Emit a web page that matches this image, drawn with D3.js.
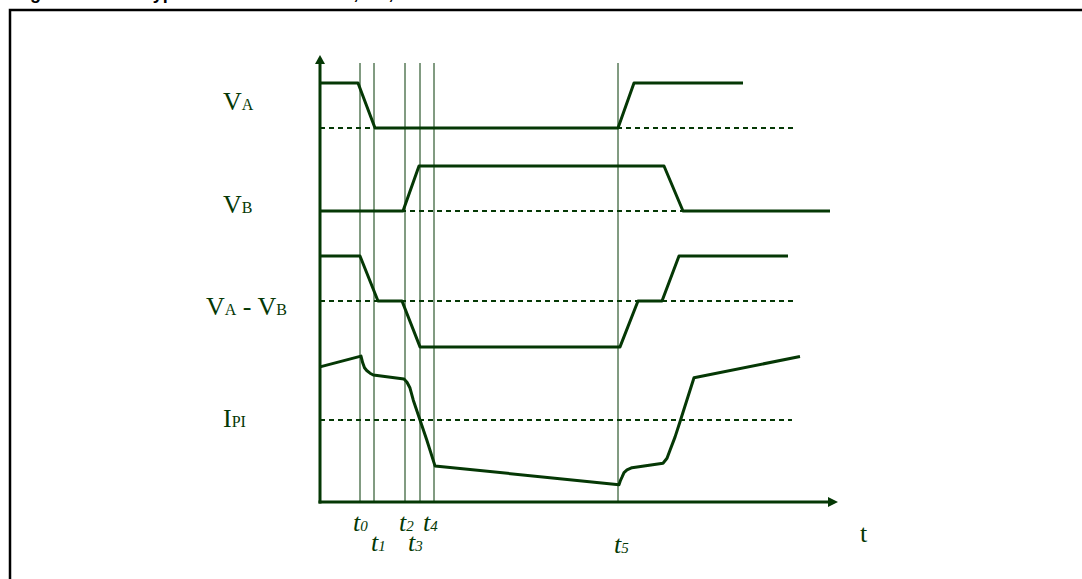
<!DOCTYPE html>
<html><head><meta charset="utf-8">
<script src="https://cdn.jsdelivr.net/npm/d3@7"></script>
<style>body{margin:0;background:#fff}svg{display:block}</style>
</head><body>
<script>
// ---------- data ----------
const titleParts = ["Figure 5.", "Typical waveforms of VA, VB, VA - VB and IPI"];
const signalNames = ["VA", "VB", "VA - VB", "IPI"];
// label pieces: [text, isLarge]
const labelVA = [["V", 1], ["A", 0]];
const labelVB = [["V", 1], ["B", 0]];
const labelVAVB = [["V", 1], ["A", 0], [" - ", 1], ["V", 1], ["B", 0]];
const labelIPI = [["I", 1], ["PI", 0]];
const timeMarkNames = ["0", "1", "2", "3", "4", "5"];
const timeMarkValues = [40, 54, 85, 100, 114, 298];
const timeAxisMax = 518;
// waveforms: [time, level] (level 0 = dashed reference, 1 = nominal high)
const vaPoints = [[0,1],[38,1],[55,0],[298,0],[314,1],[423,1]];
const vbPoints = [[0,0],[83,0],[99,1],[344,1],[363,0],[510,0]];
const vavbPoints = [[0,1],[40,1],[58,0],[82,0],[100,-1.02],[300,-1.02],[318,0],[342,0],[359,1],[468,1]];
const ipiPoints = [[0,1.18],[41,1.42],[42.7,1.27],[44.5,1.16],[46.7,1.10],[50,1.04],[53.3,1.00],
  [84,0.91],[87,0.84],[90,0.71],[93.3,0.44],[100,0.0],[106.7,-0.44],[115,-1.02],
  [299,-1.44],[300.5,-1.34],[302,-1.27],[304,-1.17],[307,-1.11],[312,-1.06],[343,-0.96],
  [347,-0.85],[350,-0.67],[355,-0.38],[360,-0.04],[374,0.94],[480,1.41]];
const referenceEnds = [475, 473, 475, 472];

// ---------- layout ----------
const W = 1082, H = 579;
const green = "#053805";
const baselines = [128, 211, 301, 420];
const svg = d3.select("body").append("svg").attr("width", W).attr("height", H);

// frame and cropped title
svg.append("rect").attr("x", 10).attr("y", 10).attr("width", 1200).attr("height", 700)
  .attr("fill", "none").attr("stroke", "#000").attr("stroke-width", 2.5);
const title = svg.append("text").attr("y", -0.6)
  .attr("font-family", "Liberation Sans, Arial, sans-serif").attr("font-weight", "bold")
  .attr("font-size", 18).attr("fill", "#000");
title.append("tspan").attr("x", 14).text(titleParts[0]);
title.append("tspan").attr("x", 143).text(titleParts[1]);

const x = d3.scaleLinear().domain([0, timeAxisMax]).range([320, 838]);
const amp = d3.scaleLinear().domain([-1, 1]).range([45, -45]);
const yTop = 55, yAxis = 502;

// thin vertical time markers
svg.append("g").selectAll("line").data(timeMarkValues).join("line")
  .attr("x1", d => x(d)).attr("x2", d => x(d)).attr("y1", 63).attr("y2", yAxis)
  .attr("stroke", green).attr("stroke-width", 1);

// dashed references, waveforms, labels
const panels = [vaPoints, vbPoints, vavbPoints, ipiPoints];
const labels = [labelVA, labelVB, labelVAVB, labelIPI];
const labelX = [223, 223, 206, 223];
const labelDy = [-18, 2, 14, 7];
const line = d3.line().x(d => x(d[0])).y(d => amp(d[1]));

panels.forEach((pts, i) => {
  const g = svg.append("g").attr("transform", `translate(0,${baselines[i]})`)
    .attr("data-name", signalNames[i]);
  g.append("line").attr("x1", x(0)).attr("x2", x(referenceEnds[i]))
    .attr("y1", amp(0)).attr("y2", amp(0))
    .attr("stroke", green).attr("stroke-width", 2).attr("stroke-dasharray", "5,4");
  g.append("path").attr("d", line(pts)).attr("fill", "none")
    .attr("stroke", green).attr("stroke-width", 3)
    .attr("stroke-linejoin", "round").attr("stroke-linecap", "butt");
  const t = g.append("text").attr("x", labelX[i]).attr("y", labelDy[i])
    .attr("font-family", "Liberation Serif, Times New Roman, serif").attr("fill", green);
  labels[i].forEach(p => t.append("tspan").attr("font-size", p[1] ? 26 : 16).text(p[0]));
});

// axes
svg.append("line").attr("x1", x(0)).attr("x2", x(0)).attr("y1", yAxis + 1.5).attr("y2", yTop + 8)
  .attr("stroke", green).attr("stroke-width", 3);
svg.append("line").attr("x1", x(0) - 1.5).attr("x2", x(timeAxisMax) - 8).attr("y1", yAxis).attr("y2", yAxis)
  .attr("stroke", green).attr("stroke-width", 3);
svg.append("path").attr("d", `M${x(0)},${yTop} L${x(0)-5},${yTop+9} L${x(0)+5},${yTop+9} Z`).attr("fill", green);
svg.append("path").attr("d", `M${x(timeAxisMax)},${yAxis} L${x(timeAxisMax)-10},${yAxis-5} L${x(timeAxisMax)-10},${yAxis+5} Z`).attr("fill", green);

// time mark labels
const tlX = [-7, -3, -6, -12, -11, -4];
const tlY = [531, 551, 531, 551, 531, 553];
timeMarkNames.forEach((n, i) => {
  const t = svg.append("text").attr("x", x(timeMarkValues[i]) + tlX[i]).attr("y", tlY[i])
    .attr("font-family", "Liberation Serif, Times New Roman, serif").attr("font-style", "italic")
    .attr("fill", green);
  t.append("tspan").attr("font-size", 26).text("t");
  t.append("tspan").attr("font-size", 15).text(n);
});
svg.append("text").attr("x", 860).attr("y", 541.5)
  .attr("font-family", "Liberation Serif, Times New Roman, serif").attr("font-size", 26)
  .attr("fill", green).text("t");
</script>
</body></html>
